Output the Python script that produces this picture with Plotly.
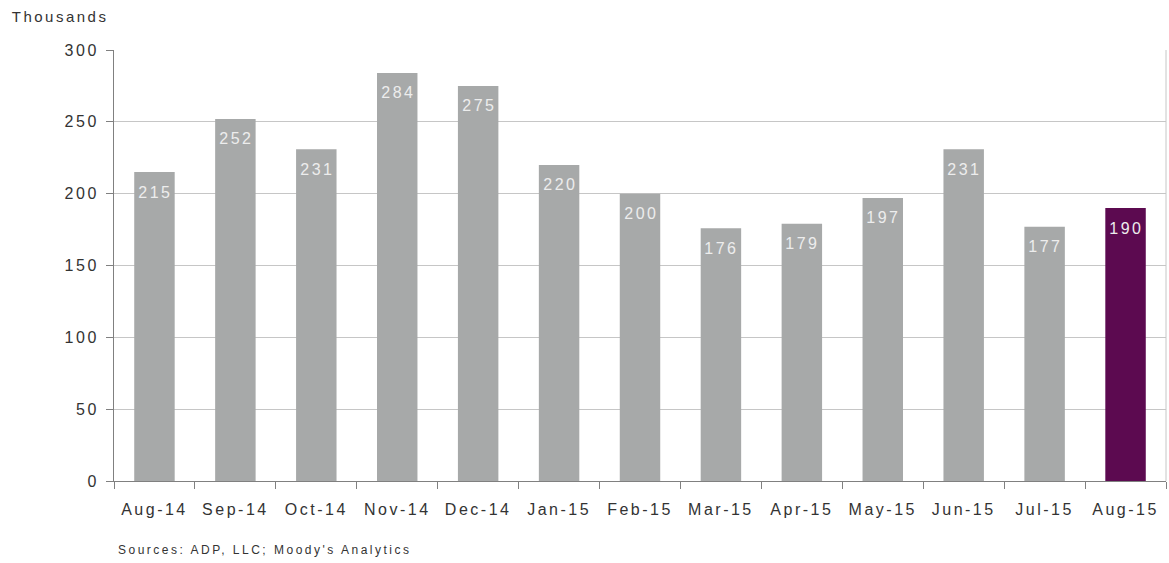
import plotly.graph_objects as go

months = ["Aug-14", "Sep-14", "Oct-14", "Nov-14", "Dec-14", "Jan-15", "Feb-15",
          "Mar-15", "Apr-15", "May-15", "Jun-15", "Jul-15", "Aug-15"]
jobs = [215, 252, 231, 284, 275, 220, 200, 176, 179, 197, 231, 177, 190]
y_ticks = [0, 50, 100, 150, 200, 250, 300]

GRAY = "#A7A9A9"
PURPLE = "#5C0A50"
colors = [GRAY] * (len(months) - 1) + [PURPLE]

FONT = "Liberation Sans, Arial, sans-serif"
TXT = "#333333"

W, H = 1169, 563
L, R, T, B = 114, 3, 50, 82
PW, PH = W - L - R, H - T - B

fig = go.Figure(go.Bar(
    x=months,
    y=jobs,
    marker=dict(color=colors, line=dict(width=0)),
    width=0.5,
    hoverinfo="x+y",
))

# value labels just below the top of each bar
for m, v in zip(months, jobs):
    fig.add_annotation(
        x=m, y=v, text=str(v), showarrow=False,
        xanchor="center", yanchor="middle", yshift=-20, xshift=1,
        font=dict(family=FONT, size=16, color="#EDEDED"),
    )

fig.update_layout(
    width=W,
    height=H,
    margin=dict(l=L, r=R, t=T, b=B),
    paper_bgcolor="white",
    plot_bgcolor="white",
    showlegend=False,
    bargap=0.5,
    font=dict(family=FONT, size=16, color=TXT),
)

fig.update_xaxes(
    type="category",
    showgrid=False,
    showline=True,
    linecolor="#808080",
    linewidth=1,
    ticks="outside",
    tickson="boundaries",
    ticklen=7,
    tickcolor="#808080",
    ticklabelstandoff=14,
    tickfont=dict(family=FONT, size=16, color=TXT),
    range=[-0.5, len(months) - 0.5],
)

fig.update_yaxes(
    range=[0, 300],
    tickvals=y_ticks,
    showgrid=True,
    gridcolor="#C6C6C6",
    gridwidth=1,
    showline=True,
    linecolor="#808080",
    linewidth=1,
    ticks="outside",
    ticklen=7,
    tickcolor="#808080",
    ticklabelstandoff=4,
    tickfont=dict(family=FONT, size=16, color=TXT),
    zeroline=False,
)

# light frame line on the right edge of the plot area
fig.add_shape(type="line", xref="paper", yref="paper", x0=1, x1=1, y0=0, y1=1,
              line=dict(color="#C6C6C6", width=1))

# unit label and source note, centred so that wider letter spacing grows evenly
fig.add_annotation(
    text="Thousands", xref="paper", yref="paper",
    x=(60 - L) / PW, y=1 + 34 / PH, xanchor="center", yanchor="middle",
    showarrow=False, font=dict(family=FONT, size=15, color=TXT),
)
fig.add_annotation(
    text="Sources: ADP, LLC; Moody's Analytics", xref="paper", yref="paper",
    x=(265 - L) / PW, y=-69 / PH, xanchor="center", yanchor="middle",
    showarrow=False, font=dict(family=FONT, size=12, color=TXT),
)

# wide letter spacing for all chart text
spacing_css = """
var st = document.createElement('style');
st.textContent = '.xtick text, .ytick text, .annotation-text {letter-spacing: 2.5px;}';
document.head.appendChild(st);
"""

fig.write_html("out.html", post_script=spacing_css)
